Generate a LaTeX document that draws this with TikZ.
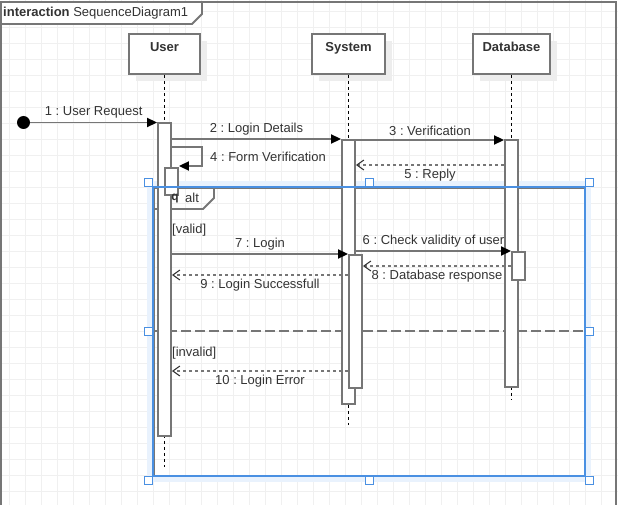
\documentclass[tikz,border=0pt]{standalone}
\usepackage{fontspec}
\setmainfont{Liberation Sans}
\usepackage{tikz}
\usetikzlibrary{arrows.meta}
\usetikzlibrary{shadows}
\frenchspacing

\definecolor{linegray}{HTML}{767676}
\definecolor{txtgray}{HTML}{333333}
\definecolor{gridgray}{HTML}{F0F0F0}
\definecolor{selblue}{HTML}{4A90E2}
\definecolor{glowblue}{HTML}{E9F2FD}

\begin{document}
\begin{tikzpicture}[x=1pt, y=-1pt, font=\fontsize{13}{15}\selectfont, text=txtgray,
        head/.style={draw=linegray, line width=1.9pt, fill=white, inner sep=0pt, text height=18pt, text depth=22pt, font=\fontsize{13}{15}\selectfont\bfseries, drop shadow={shadow xshift=7pt, shadow yshift=-7pt, fill=black!7, opacity=1}},
        act/.style={draw=linegray, line width=1.9pt, fill=white, inner sep=0pt, minimum width=13pt, anchor=north},
        life/.style={draw=black, line width=0.9pt, dash pattern=on 3pt off 3pt},
        msg/.style={draw=linegray, line width=1.9pt, -{Triangle[length=10pt, width=9pt, color=black]}},
        reply/.style={draw=linegray, line width=1.9pt, dash pattern=on 3pt off 3pt, -{Straight Barb[length=7pt, width=10pt, line width=1.1pt, color=txtgray]}},
        handle/.style={draw=selblue, line width=1pt, fill=white, minimum size=8pt, inner sep=0pt}]
        \useasboundingbox (0,0) rectangle (618,505);

        % Grid
        \foreach \gx in {9.3,25.3,...,617} \draw[gridgray, line width=0.8pt] (\gx,0) -- (\gx,505);
        \foreach \gy in {11.3,27.3,...,505} \draw[gridgray, line width=0.8pt] (0,\gy) -- (618,\gy);

        % Frame
        \draw[linegray, line width=1.9pt] (1,506) -- (1,2) -- (616,2) -- (616,506);
        \draw[linegray, line width=1.9pt, fill=white] (1,2) -- (202,2) -- (202,14) -- (192,24) -- (1,24) -- cycle;
        \node[anchor=west, inner sep=0pt] (title) at (3,13) {\textbf{interaction} SequenceDiagram1};

        % Alt fragment
        \draw[glowblue, line width=6pt] (150,184) rectangle (588,479);
        \node[draw=linegray, line width=1.9pt, minimum width=431pt, minimum height=288pt, inner sep=0pt, anchor=north west] (alt) at (153,187) {};
        \draw[linegray, line width=1.9pt, dash pattern=on 10pt off 4pt] (alt.west |- 0,331) -- (alt.east |- 0,331);
        \draw[linegray, line width=1.9pt] (alt.north west) -- ++(61,0) -- ++(0,11) -- ++(-11,11) -- (alt.west |- 0,209);
        \node[inner sep=0pt] (alttxt) at (192,197.5) {alt};
        \node[anchor=west, inner sep=1pt] (valid) at (171,230) {[valid]};
        \node[anchor=west, inner sep=1pt] (invalid) at (171,353) {[invalid]};

        % Lifelines
        \node[head, minimum width=71pt] (user) at (164.5,54) {User};
        \node[head, minimum width=73pt] (sys) at (348.5,54) {System};
        \node[head, minimum width=77pt] (db) at (511.5,54) {Database};

        \coordinate (uend) at (164.5,467);
        \coordinate (send) at (348.5,425);
        \coordinate (dend) at (511.5,400);
        \draw[life] (user.south) -- (uend);
        \draw[life] (sys.south) -- (send);
        \draw[life] (db.south) -- (dend);

        % Activations
        \node[act, minimum height=313pt] (ua) at (164.5,122) {};
        \node[act, minimum height=27pt] (ua2) at (171.5,167) {};
        \node[act, minimum height=264pt] (sa) at (348.5,139) {};
        \node[act, minimum height=133pt] (sa2) at (355.5,254) {};
        \node[act, minimum height=247pt] (da) at (511.5,139) {};
        \node[act, minimum height=28pt] (da2) at (518.5,251) {};
        \node[inner sep=0pt, font=\fontsize{12}{14}\selectfont\bfseries] (q) at (175,199) {q};

        % Messages
        \node[circle, fill=black, minimum size=13pt, inner sep=0pt] (start) at (23.5,122.5) {};
        \draw[msg] (start) -- node[above] {1 : User Request} (ua.west |- start);
        \draw[msg] (ua.east |- 0,139) -- node[above] {2 : Login Details} (sa.west |- 0,139);
        \draw[msg] (sa.east |- 0,140) -- node[above] {3 : Verification} (da.west |- 0,140);
        \draw[msg] (ua.east |- 0,147) -| ++(30,19) node[pos=0.75, right=4pt] {4 : Form Verification} -- (ua2.east |- 0,166);
        \draw[reply] (da.west |- 0,165) -- node[below] {5 : Reply} (sa.east |- 0,165);
        \draw[msg] (sa.east |- 0,251) -- node[above] {6 : Check validity of user} (da2.west |- 0,251);
        \draw[msg] (ua.east |- 0,254) -- node[above] {7 : Login} (sa2.west |- 0,254);
        \draw[reply] (da2.west |- 0,266) -- node[below] {8 : Database response} (sa2.east |- 0,266);
        \draw[reply] (sa2.west |- 0,275) -- node[below] {9 : Login Successfull} (ua.east |- 0,275);
        \draw[reply] (sa2.west |- 0,371) -- node[below] {10 : Login Error} (ua.east |- 0,371);

        % Selection
        \draw[selblue, line width=1.2pt] (153,187) rectangle (585,476);
        \foreach \hx/\hy [count=\i] in {148.5/183, 369.5/183, 589/183, 148.5/331, 589/331, 148.5/480, 369.5/480, 589/480}
                \node[handle] (h\i) at (\hx,\hy) {};
    \end{tikzpicture}
\end{document}
